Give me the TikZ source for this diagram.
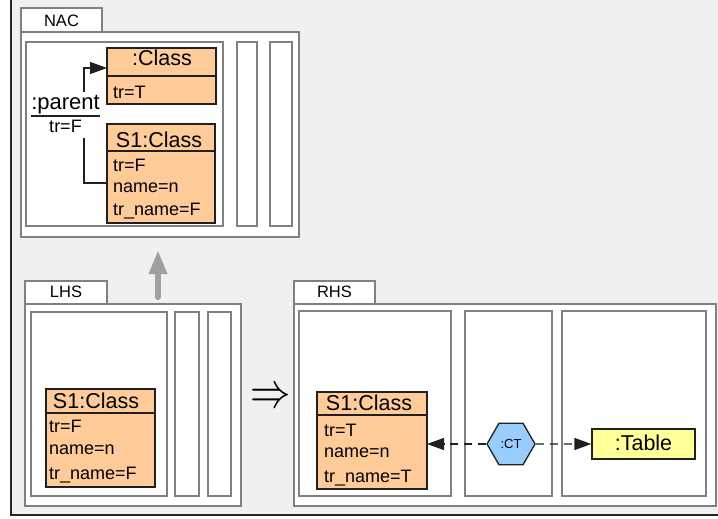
\documentclass[tikz,border=0pt]{standalone}
\usepackage{fontspec}
\usepackage{graphicx}
\setmainfont{Liberation Sans}
\usetikzlibrary{arrows.meta,shapes.geometric,fit}

\definecolor{bggray}{HTML}{F0F0F0}
\definecolor{framegray}{HTML}{808080}
\definecolor{classfill}{HTML}{FFCC99}
\definecolor{tablefill}{HTML}{FFFF99}
\definecolor{ctfill}{HTML}{99CCFF}
\definecolor{upgray}{HTML}{A0A0A0}
\definecolor{edgecol}{HTML}{202020}

\tikzset{
  frame/.style={draw=framegray, line width=2.5pt, fill=white, inner sep=0pt, outer sep=0pt},
  tabbox/.style={draw=framegray, line width=2pt, fill=white, inner sep=0pt, outer sep=0pt},
  panel/.style={draw=framegray, line width=2.5pt, fill=white, inner sep=0pt, outer sep=0pt},
  classbox/.style={draw=edgecol, line width=1.3pt, fill=classfill, inner sep=0pt, outer sep=0pt},
  divider/.style={draw=edgecol, line width=1.3pt},
  head/.style={font=\fontsize{21.5}{21.5}\selectfont, anchor=base, inner sep=0pt},
  attr/.style={font=\fontsize{18}{18}\selectfont, anchor=base west, inner sep=0pt},
  tabtext/.style={font=\fontsize{16.5}{16.5}\selectfont, anchor=base, inner sep=0pt},
  conn/.style={draw=edgecol, line width=1.4pt, -{Triangle[length=17pt,width=12pt]}},
  dasharrow/.style={conn, dash pattern=on 8pt off 6pt},
  uparrow/.style={draw=upgray, line width=6pt, line cap=round,
                  -{Triangle[length=24pt,width=17pt]}},
}

\begin{document}
\begin{tikzpicture}[x=1pt, y=-1pt]
\useasboundingbox (0,0) rectangle (718,519);

% canvas
\fill[white] (0,0) rectangle (718,519);
\fill[bggray] (11,0) rectangle (718,515);
\draw[line width=1.5pt, black!85] (11,0) -- (11,515) -- (718,515);

% ---------------- NAC ----------------
\node[tabbox, fit={(21,8) (102,32)}] (nactab) {};
\node[tabtext] (nactabtxt) at (61.5,27) {NAC};
\node[frame, fit={(21,32) (299,237)}] (nac) {};
\node[panel, fit={(26,42) (223,226)}] (nacmain) {};
\node[panel, fit={(237,42) (257,226)}] (nacp2) {};
\node[panel, fit={(270,42) (292,226)}] (nacp3) {};

% :Class
\node[classbox, fit={(107,48) (216,104)}] (cls) {};
\draw[divider] (107,76) -- (216,76);
\node[head] (clshead) at (162,66) {:Class};
\node[attr] (clstr) at (113,99) {tr=T};

% S1:Class (NAC)
\node[classbox, fit={(107,124) (215,223)}] (s1nac) {};
\draw[divider] (107,151) -- (215,151);
\node[head] (s1nachead) at (159,147) {S1:Class};
\node[attr] (s1nactr) at (113,171) {tr=F};
\node[attr] (s1nacname) at (113,192) {name=n};
\node[attr] (s1nactrn) at (113,215) {tr\_name=F};

% :parent link
\draw[conn] ([yshift=-9.5pt]s1nac.west) -- ++(-23,0) |- ([yshift=8pt]cls.west);
\node[fill=white, inner sep=0pt, fit={(31,92) (100,138)}] (parentbg) {};
\node[head, font=\fontsize{22}{22}\selectfont] (parentname) at (65.5,110) {:parent};
\draw[line width=1.2pt, edgecol] (31,116) -- (100,116);
\node[head, font=\fontsize{18}{18}\selectfont] (parenttr) at (65.5,132) {tr=F};

% ---------------- LHS ----------------
\node[tabbox, fit={(25,281) (107,304)}] (lhstab) {};
\node[tabtext] (lhstabtxt) at (66,297) {LHS};
\node[frame, fit={(25,304) (241,506)}] (lhs) {};
\node[panel, fit={(31,312) (167,496)}] (lhsmain) {};
\node[panel, fit={(175,312) (199,496)}] (lhsp2) {};
\node[panel, fit={(208,312) (231,496)}] (lhsp3) {};

\node[classbox, fit={(46,389) (155,487)}] (s1lhs) {};
\draw[divider] (46,413) -- (155,413);
\node[head] (s1lhshead) at (96,408) {S1:Class};
\node[attr] (s1lhstr) at (49,432) {tr=F};
\node[attr] (s1lhsname) at (49,454) {name=n};
\node[attr] (s1lhstrn) at (49,479) {tr\_name=F};

% LHS refers to NAC
\coordinate (upfoot) at (158,297);
\coordinate (uptip) at (158,250);
\draw[uparrow] (upfoot) -- (uptip);

% rewrite arrow
\node[inner sep=0pt] (rewrite) at (271,398)
  {\scalebox{1.95}[2.4]{\fontsize{20.74}{20.74}\selectfont$\Rightarrow$}};

% ---------------- RHS ----------------
\node[tabbox, fit={(294,281) (375,304)}] (rhstab) {};
\node[tabtext] (rhstabtxt) at (334.5,297) {RHS};
\node[frame, fit={(294,304) (716,506)}] (rhs) {};
\node[panel, fit={(299,311) (451,496)}] (rhsmain) {};
\node[panel, fit={(465,311) (552,496)}] (rhsp2) {};
\node[panel, fit={(562,311) (706,496)}] (rhsp3) {};

\node[classbox, fit={(317,392) (427,489)}] (s1rhs) {};
\draw[divider] (317,415) -- (427,415);
\node[head] (s1rhshead) at (369,410) {S1:Class};
\node[attr] (s1rhstr) at (324,436) {tr=T};
\node[attr] (s1rhsname) at (324,457) {name=n};
\node[attr] (s1rhstrn) at (324,482) {tr\_name=T};

\node[regular polygon, regular polygon sides=6, minimum size=48pt, inner sep=0pt,
      draw=edgecol, line width=1.3pt, fill=ctfill,
      font=\fontsize{13}{13}\selectfont] (ct) at (511,444) {:CT};

\node[draw=edgecol, line width=1.3pt, fill=tablefill, inner sep=0pt,
      fit={(592,429) (695,459)}] (tbl) {};
\node[head] (tbltxt) at (643.5,450) {:Table};

\draw[dasharrow] (ct.west) -- (ct.west -| s1rhs.east);
\draw[dasharrow] (ct.east) -- (tbl.west);

\end{tikzpicture}
\end{document}
